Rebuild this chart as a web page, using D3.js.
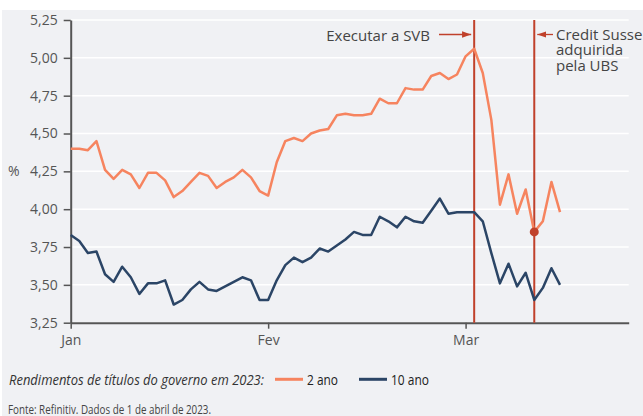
<!DOCTYPE html>
<html>
<head>
<meta charset="utf-8">
<script src="https://cdn.jsdelivr.net/npm/d3@7"></script>
<style>
  body { margin: 0; background: #fff; }
  svg text { font-family: "Open Sans", "Noto Sans", sans-serif; }
</style>
</head>
<body>
<script>
// chart values (trading-day index along x)
const months = ["Jan", "Fev", "Mar"];
const monthIdx = [0, 23, 46];
const yTicks = [3.25, 3.5, 3.75, 4.0, 4.25, 4.5, 4.75, 5.0, 5.25];

const twoYear = [4.40, 4.40, 4.39, 4.45, 4.26, 4.20, 4.26, 4.23, 4.14, 4.24,
  4.24, 4.19, 4.08, 4.12, 4.18, 4.24, 4.22, 4.14, 4.18, 4.21,
  4.26, 4.21, 4.12, 4.09, 4.31, 4.45, 4.47, 4.45, 4.50, 4.52,
  4.53, 4.62, 4.63, 4.62, 4.62, 4.63, 4.73, 4.70, 4.70, 4.80,
  4.79, 4.79, 4.88, 4.90, 4.86, 4.89, 5.01, 5.06, 4.90, 4.59,
  4.03, 4.23, 3.97, 4.13, 3.85, 3.92, 4.18, 3.98];

const tenYear = [3.83, 3.79, 3.71, 3.72, 3.57, 3.52, 3.62, 3.55, 3.44, 3.51,
  3.51, 3.53, 3.37, 3.40, 3.47, 3.52, 3.47, 3.46, 3.49, 3.52,
  3.55, 3.53, 3.40, 3.40, 3.53, 3.63, 3.68, 3.65, 3.68, 3.74,
  3.72, 3.76, 3.80, 3.85, 3.83, 3.83, 3.95, 3.92, 3.88, 3.95,
  3.92, 3.91, 3.99, 4.07, 3.97, 3.98, 3.98, 3.98, 3.92, 3.71,
  3.51, 3.64, 3.49, 3.58, 3.40, 3.48, 3.61, 3.50];

const svbIdx = 47;
const csIdx = 54;

const width = 643;
const height = 416;
const orange = "#f6845f";
const navy = "#2b4566";
const red = "#c0412b";
const grey = "#555";

const svg = d3.select("body").append("svg")
  .attr("width", width)
  .attr("height", height);

svg.append("rect").attr("x", 2).attr("y", 10)
  .attr("width", width - 2).attr("height", height - 10)
  .attr("fill", "#f0f1f4");

const x = d3.scaleLinear().domain([0, 65]).range([70.7, 628.7]);
const y = d3.scaleLinear().domain([3.25, 5.25]).range([322.7, 20]);

// gridlines
svg.append("g").selectAll("line")
  .data(yTicks)
  .join("line")
  .attr("x1", x(0)).attr("x2", x(65))
  .attr("y1", d => y(d)).attr("y2", d => y(d))
  .attr("stroke", "#fff").attr("stroke-width", 1.5);

// y axis
const yAxis = svg.append("g")
  .attr("transform", `translate(${x(0)},0)`)
  .call(d3.axisLeft(y).tickValues(yTicks).tickSize(7).tickSizeOuter(0).tickPadding(6)
    .tickFormat(d => d3.format(".2f")(d).replace(".", ",")));
yAxis.select(".domain").attr("stroke", grey).attr("stroke-width", 2);
yAxis.selectAll(".tick line").attr("stroke", grey).attr("stroke-width", 1.5);
yAxis.selectAll("text").attr("font-size", 14).attr("fill", grey)
  .attr("font-family", "Open Sans");

svg.append("text").attr("x", 8).attr("y", y(4.25)).attr("dy", "0.35em")
  .attr("font-size", 14).attr("fill", grey).text("%");

// x axis
const xAxis = svg.append("g")
  .attr("transform", `translate(0,${y(3.25)})`)
  .call(d3.axisBottom(x).tickValues(monthIdx).tickSize(6).tickSizeOuter(0).tickPadding(6)
    .tickFormat((d, i) => months[i]));
xAxis.select(".domain").attr("stroke", grey).attr("stroke-width", 2);
xAxis.selectAll(".tick line").attr("stroke", grey).attr("stroke-width", 1.5);
xAxis.selectAll("text").attr("font-size", 14).attr("fill", grey)
  .attr("font-family", "Open Sans");

// event lines
[svbIdx, csIdx].forEach(i => {
  svg.append("line")
    .attr("x1", x(i)).attr("x2", x(i))
    .attr("y1", y(5.25)).attr("y2", y(3.25))
    .attr("stroke", red).attr("stroke-width", 2);
});

// series
const line = d3.line().x((d, i) => x(i)).y(d => y(d));
svg.append("path").datum(tenYear)
  .attr("d", line).attr("fill", "none")
  .attr("stroke", navy).attr("stroke-width", 2.5).attr("stroke-linejoin", "round");
svg.append("path").datum(twoYear)
  .attr("d", line).attr("fill", "none")
  .attr("stroke", orange).attr("stroke-width", 2.5).attr("stroke-linejoin", "round");

svg.append("circle")
  .attr("cx", x(csIdx)).attr("cy", y(twoYear[csIdx]))
  .attr("r", 4.5).attr("fill", red);

// annotations
const defs = svg.append("defs");
defs.append("marker").attr("id", "arr")
  .attr("viewBox", "0 0 10 10").attr("refX", 10).attr("refY", 5)
  .attr("markerWidth", 7).attr("markerHeight", 7).attr("orient", "auto")
  .append("path").attr("d", "M0,1.5 L10,5 L0,8.5 Z").attr("fill", red);

svg.append("text").attr("x", 430).attr("y", 41)
  .attr("text-anchor", "end").attr("font-size", 15).attr("fill", "#444")
  .text("Executar a SVB");
svg.append("line")
  .attr("x1", 439).attr("x2", x(svbIdx) - 3).attr("y1", 34.5).attr("y2", 34.5)
  .attr("stroke", red).attr("stroke-width", 1.3).attr("marker-end", "url(#arr)");

svg.append("line")
  .attr("x1", 553).attr("x2", x(csIdx) + 3).attr("y1", 34.5).attr("y2", 34.5)
  .attr("stroke", red).attr("stroke-width", 1.3).attr("marker-end", "url(#arr)");
const csText = svg.append("text").attr("font-size", 15).attr("fill", "#444");
["Credit Susse", "adquirida", "pela UBS"].forEach((t, i) => {
  csText.append("tspan").attr("x", 556).attr("y", 39.5 + i * 15.6).text(t);
});

// legend
const leg = svg.append("g");
leg.append("text").attr("x", 9).attr("y", 384.5)
  .attr("font-size", 15).attr("font-style", "italic").attr("fill", "#333")
  .attr("textLength", 255).attr("lengthAdjust", "spacingAndGlyphs")
  .text("Rendimentos de títulos do governo em 2023:");
const legItems = [
  { label: "2 ano", color: orange, x0: 275, w: 31 },
  { label: "10 ano", color: navy, x0: 359, w: 38 }
];
legItems.forEach(d => {
  leg.append("line").attr("x1", d.x0).attr("x2", d.x0 + 28)
    .attr("y1", 379.3).attr("y2", 379.3)
    .attr("stroke", d.color).attr("stroke-width", 3);
  leg.append("text").attr("x", d.x0 + 32).attr("y", 384.5)
    .attr("font-size", 15).attr("fill", "#222")
    .attr("textLength", d.w).attr("lengthAdjust", "spacingAndGlyphs")
    .text(d.label);
});

svg.append("text").attr("x", 8).attr("y", 413.5)
  .attr("font-size", 13).attr("fill", "#444")
  .attr("textLength", 203).attr("lengthAdjust", "spacingAndGlyphs")
  .text("Fonte: Refinitiv. Dados de 1 de abril de 2023.");
</script>
</body>
</html>
